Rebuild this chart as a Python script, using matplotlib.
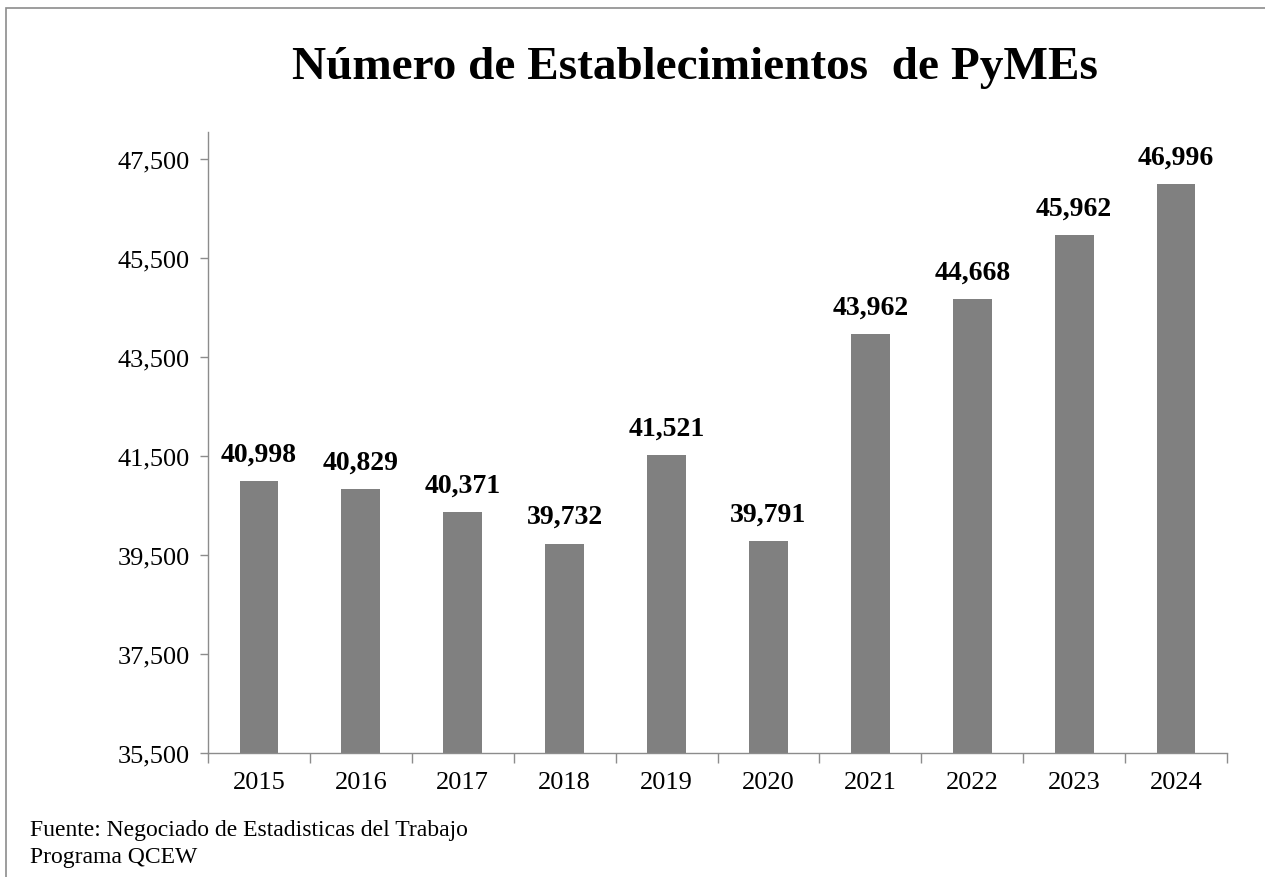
import matplotlib
matplotlib.use("Agg")
import matplotlib.pyplot as plt
from matplotlib.patches import Rectangle
from matplotlib.ticker import FuncFormatter, FixedLocator

years = ["2015", "2016", "2017", "2018", "2019", "2020", "2021", "2022", "2023", "2024"]
establishments = [40998, 40829, 40371, 39732, 41521, 39791, 43962, 44668, 45962, 46996]
yticks = [35500, 37500, 39500, 41500, 43500, 45500, 47500]

title = "Número de Establecimientos  de PyMEs"
source_lines = ["Fuente: Negociado de Estadisticas del Trabajo", "Programa QCEW"]

plt.rcParams['font.family'] = ['Liberation Serif', 'DejaVu Serif']

W, H = 1265, 878
fig = plt.figure(figsize=(W / 100, H / 100), dpi=100)

# outer frame (cropped at right/bottom)
fig.patches.append(Rectangle((6 / W, -0.1), 1.2, 1 - 9 / H + 0.1, transform=fig.transFigure,
                             fill=False, edgecolor='#8c8c8c', linewidth=1.2))

ax = fig.add_axes([208 / W, (H - 754) / H, (1227 - 208) / W, (754 - 133) / H])
x = list(range(len(years)))
ax.bar(x, establishments, width=0.38, color='#808080', zorder=2)

ax.set_xlim(-0.5, len(years) - 0.5)
ax.set_ylim(35500, 48050)
ax.set_yticks(yticks)
ax.yaxis.set_major_formatter(FuncFormatter(lambda v, p: f"{int(v):,}"))
ax.set_xticks(x)
ax.set_xticklabels(years, fontsize=19)
ax.xaxis.set_minor_locator(FixedLocator([i - 0.5 for i in range(len(years) + 1)]))
ax.tick_params(axis='x', which='major', length=0, pad=13)
ax.tick_params(axis='x', which='minor', length=7, width=1, color='#8c8c8c')
ax.tick_params(axis='y', length=6, width=1, color='#8c8c8c', labelsize=19, pad=7)

for s in ['top', 'right']:
    ax.spines[s].set_visible(False)
for s in ['left', 'bottom']:
    ax.spines[s].set_color('#8c8c8c')
    ax.spines[s].set_linewidth(1)

for xi, v in zip(x, establishments):
    ax.annotate(f"{v:,}", (xi, v), xytext=(0, 27), textcoords='offset pixels',
                ha='center', va='center', fontsize=20, fontweight='bold')

fig.text(695 / W, 1 - 68 / H, title, ha='center', va='center', fontsize=34, fontweight='bold')
fig.text(30 / W, 1 - 831 / H, source_lines[0], ha='left', va='center', fontsize=17)
fig.text(30 / W, 1 - 858 / H, source_lines[1], ha='left', va='center', fontsize=17)

fig.savefig("out.png", dpi=100)
